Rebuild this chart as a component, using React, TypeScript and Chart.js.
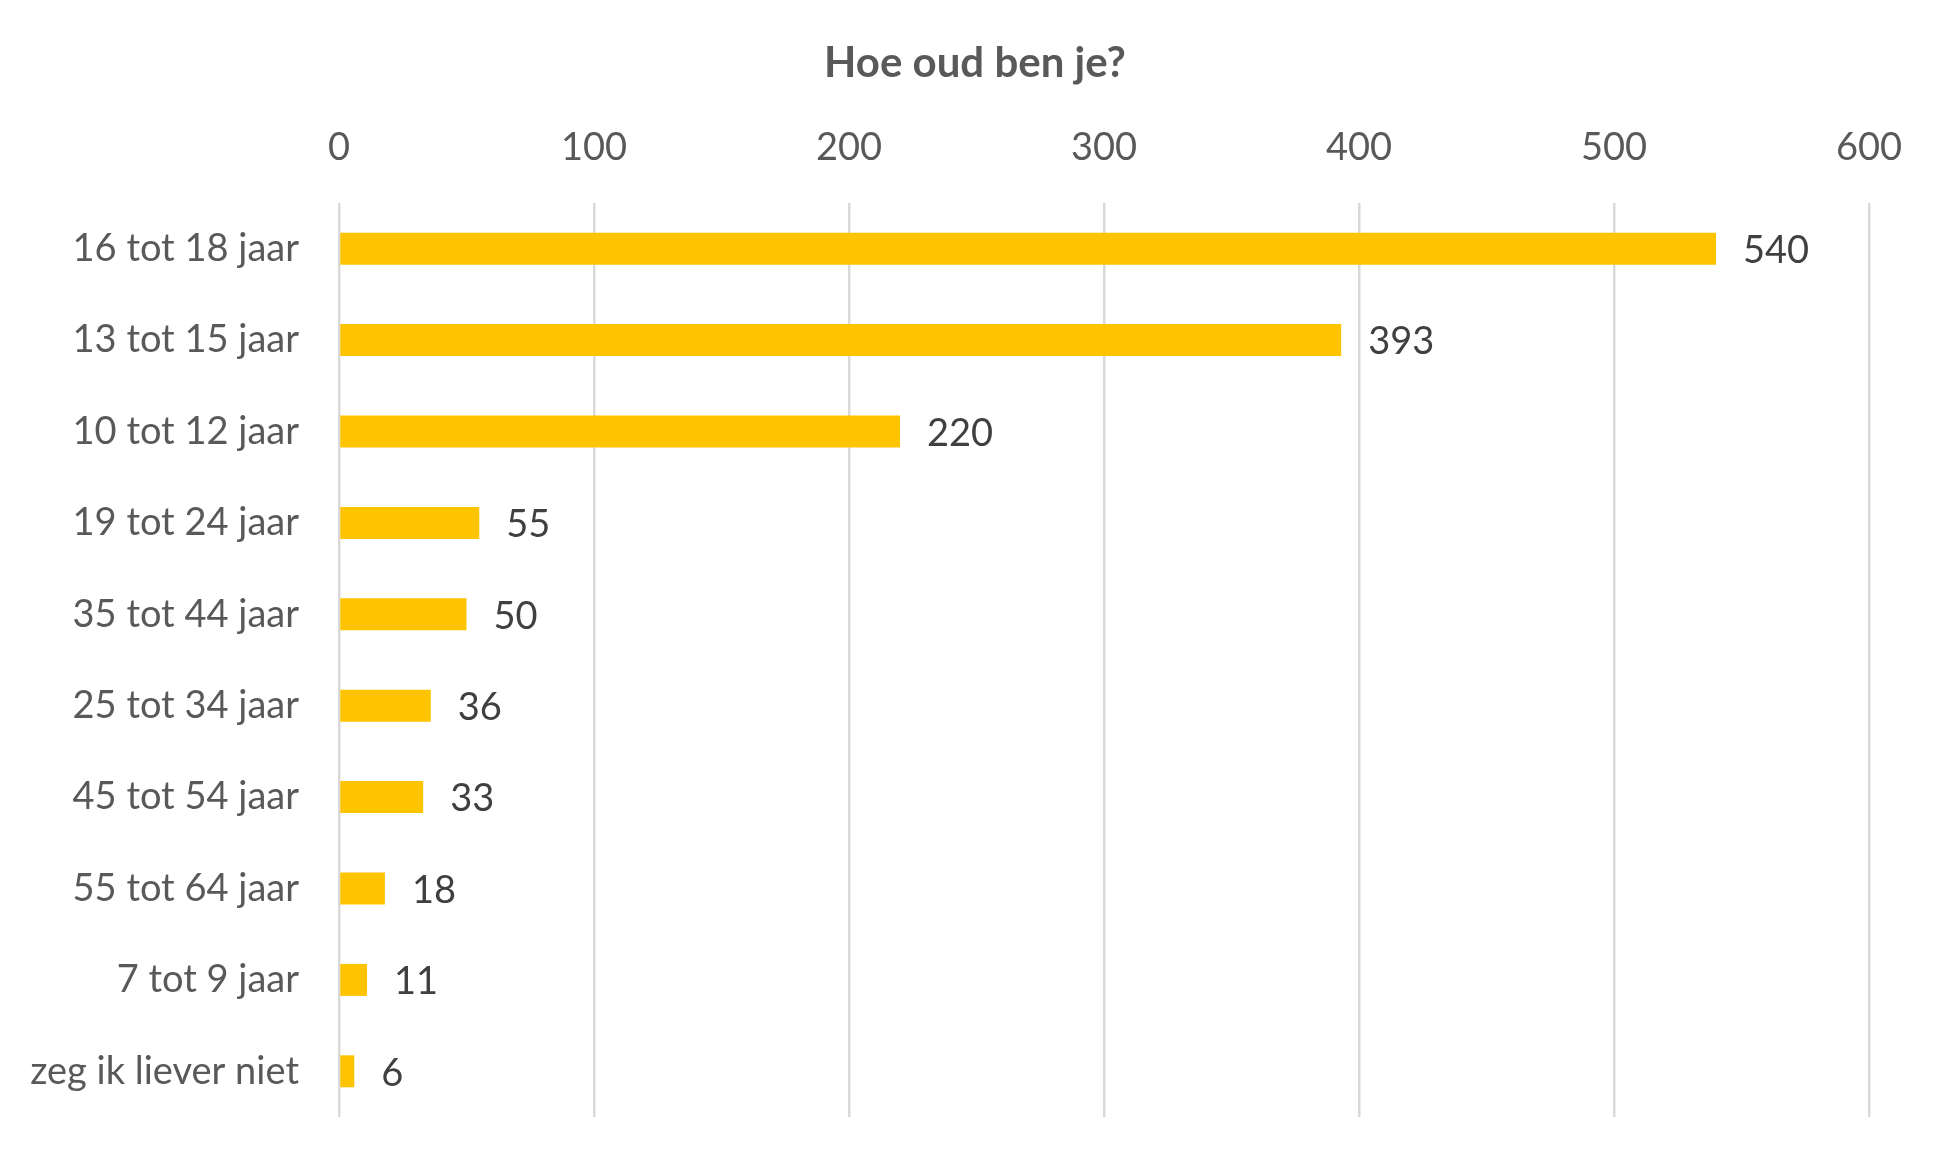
import React, { useEffect, useRef } from 'react';
import Chart from 'chart.js/auto';

const categories = [
    '16 tot 18 jaar',
    '13 tot 15 jaar',
    '10 tot 12 jaar',
    '19 tot 24 jaar',
    '35 tot 44 jaar',
    '25 tot 34 jaar',
    '45 tot 54 jaar',
    '55 tot 64 jaar',
    '7 tot 9 jaar',
    'zeg ik liever niet',
];
const counts = [540, 393, 220, 55, 50, 36, 33, 18, 11, 6];
const xTicks = [0, 100, 200, 300, 400, 500, 600];
const chartTitle = 'Hoe oud ben je?';

const FONT = 'Lato, "Open Sans", sans-serif';

// title centred on the whole canvas (the built-in one centres on the padded box)
const centredTitle = {
    id: 'centredTitle',
    afterDraw(chart: Chart) {
        const ctx = chart.ctx;
        ctx.save();
        ctx.font = `bold 42px ${FONT}`;
        ctx.fillStyle = '#595959';
        ctx.textAlign = 'center';
        ctx.textBaseline = 'middle';
        ctx.fillText(chartTitle, chart.width / 2, 63);
        ctx.restore();
    }
};

// draws the count just right of each bar end
const valueLabels = {
    id: 'valueLabels',
    afterDatasetsDraw(chart: Chart) {
        const ctx = chart.ctx;
        const meta = chart.getDatasetMeta(0);
        ctx.save();
        ctx.font = `38px ${FONT}`;
        ctx.fillStyle = '#404040';
        ctx.textAlign = 'left';
        ctx.textBaseline = 'middle';
        meta.data.forEach((bar: any, i: number) => {
            ctx.fillText(String(counts[i]), bar.x + 27, bar.y + 2);
        });
        ctx.restore();
    }
};

const App: React.FC = () => {
    const canvasRef = useRef<HTMLCanvasElement>(null);
    const chartRef = useRef<Chart>();

    useEffect(() => {
        document.body.style.margin = '0';
        const ctx = canvasRef.current?.getContext('2d');
        if (!ctx) return;
        if (chartRef.current) chartRef.current.destroy();

        chartRef.current = new Chart(ctx, {
            type: 'bar',
            data: {
                labels: categories,
                datasets: [{
                    data: counts,
                    backgroundColor: '#FFC400',
                    borderWidth: 0,
                    barPercentage: 0.35,
                    categoryPercentage: 1,
                }]
            },
            options: {
                indexAxis: 'y',
                responsive: false,
                animation: false,
                devicePixelRatio: 1,
                layout: {
                    padding: { left: 0, right: 81, top: 87, bottom: 51 }
                },
                plugins: {
                    legend: { display: false },
                    tooltip: { enabled: false },
                    title: { display: false }
                },
                scales: {
                    x: {
                        position: 'top',
                        min: xTicks[0],
                        max: xTicks[xTicks.length - 1],
                        afterBuildTicks: (scale: any) => {
                            scale.ticks = xTicks.map(v => ({ value: v }));
                        },
                        afterFit: (scale: any) => {
                            scale.height = 116;
                        },
                        grid: {
                            color: '#d9d9d9',
                            lineWidth: 2.5,
                            drawTicks: false,
                        },
                        border: { display: false },
                        ticks: {
                            color: '#595959',
                            padding: 32,
                            font: { family: FONT, size: 38, lineHeight: 1.2 },
                        }
                    },
                    y: {
                        afterFit: (scale: any) => {
                            scale.width = 339;
                            // the label padding would otherwise eat into the bottom margin
                            scale.paddingTop = 0;
                            scale.paddingBottom = 0;
                        },
                        grid: { display: false, drawTicks: false },
                        border: { display: false },
                        ticks: {
                            color: '#595959',
                            padding: 40,
                            font: { family: FONT, size: 38 },
                        }
                    }
                }
            } as any,
            plugins: [valueLabels, centredTitle]
        });

        return () => {
            if (chartRef.current) {
                chartRef.current.destroy();
                chartRef.current = undefined;
            }
        };
    }, []);

    return (
        <div style={{ width: 1950, height: 1168, background: '#ffffff' }}>
            <canvas ref={canvasRef} width={1950} height={1168}></canvas>
        </div>
    );
};

export default App;
